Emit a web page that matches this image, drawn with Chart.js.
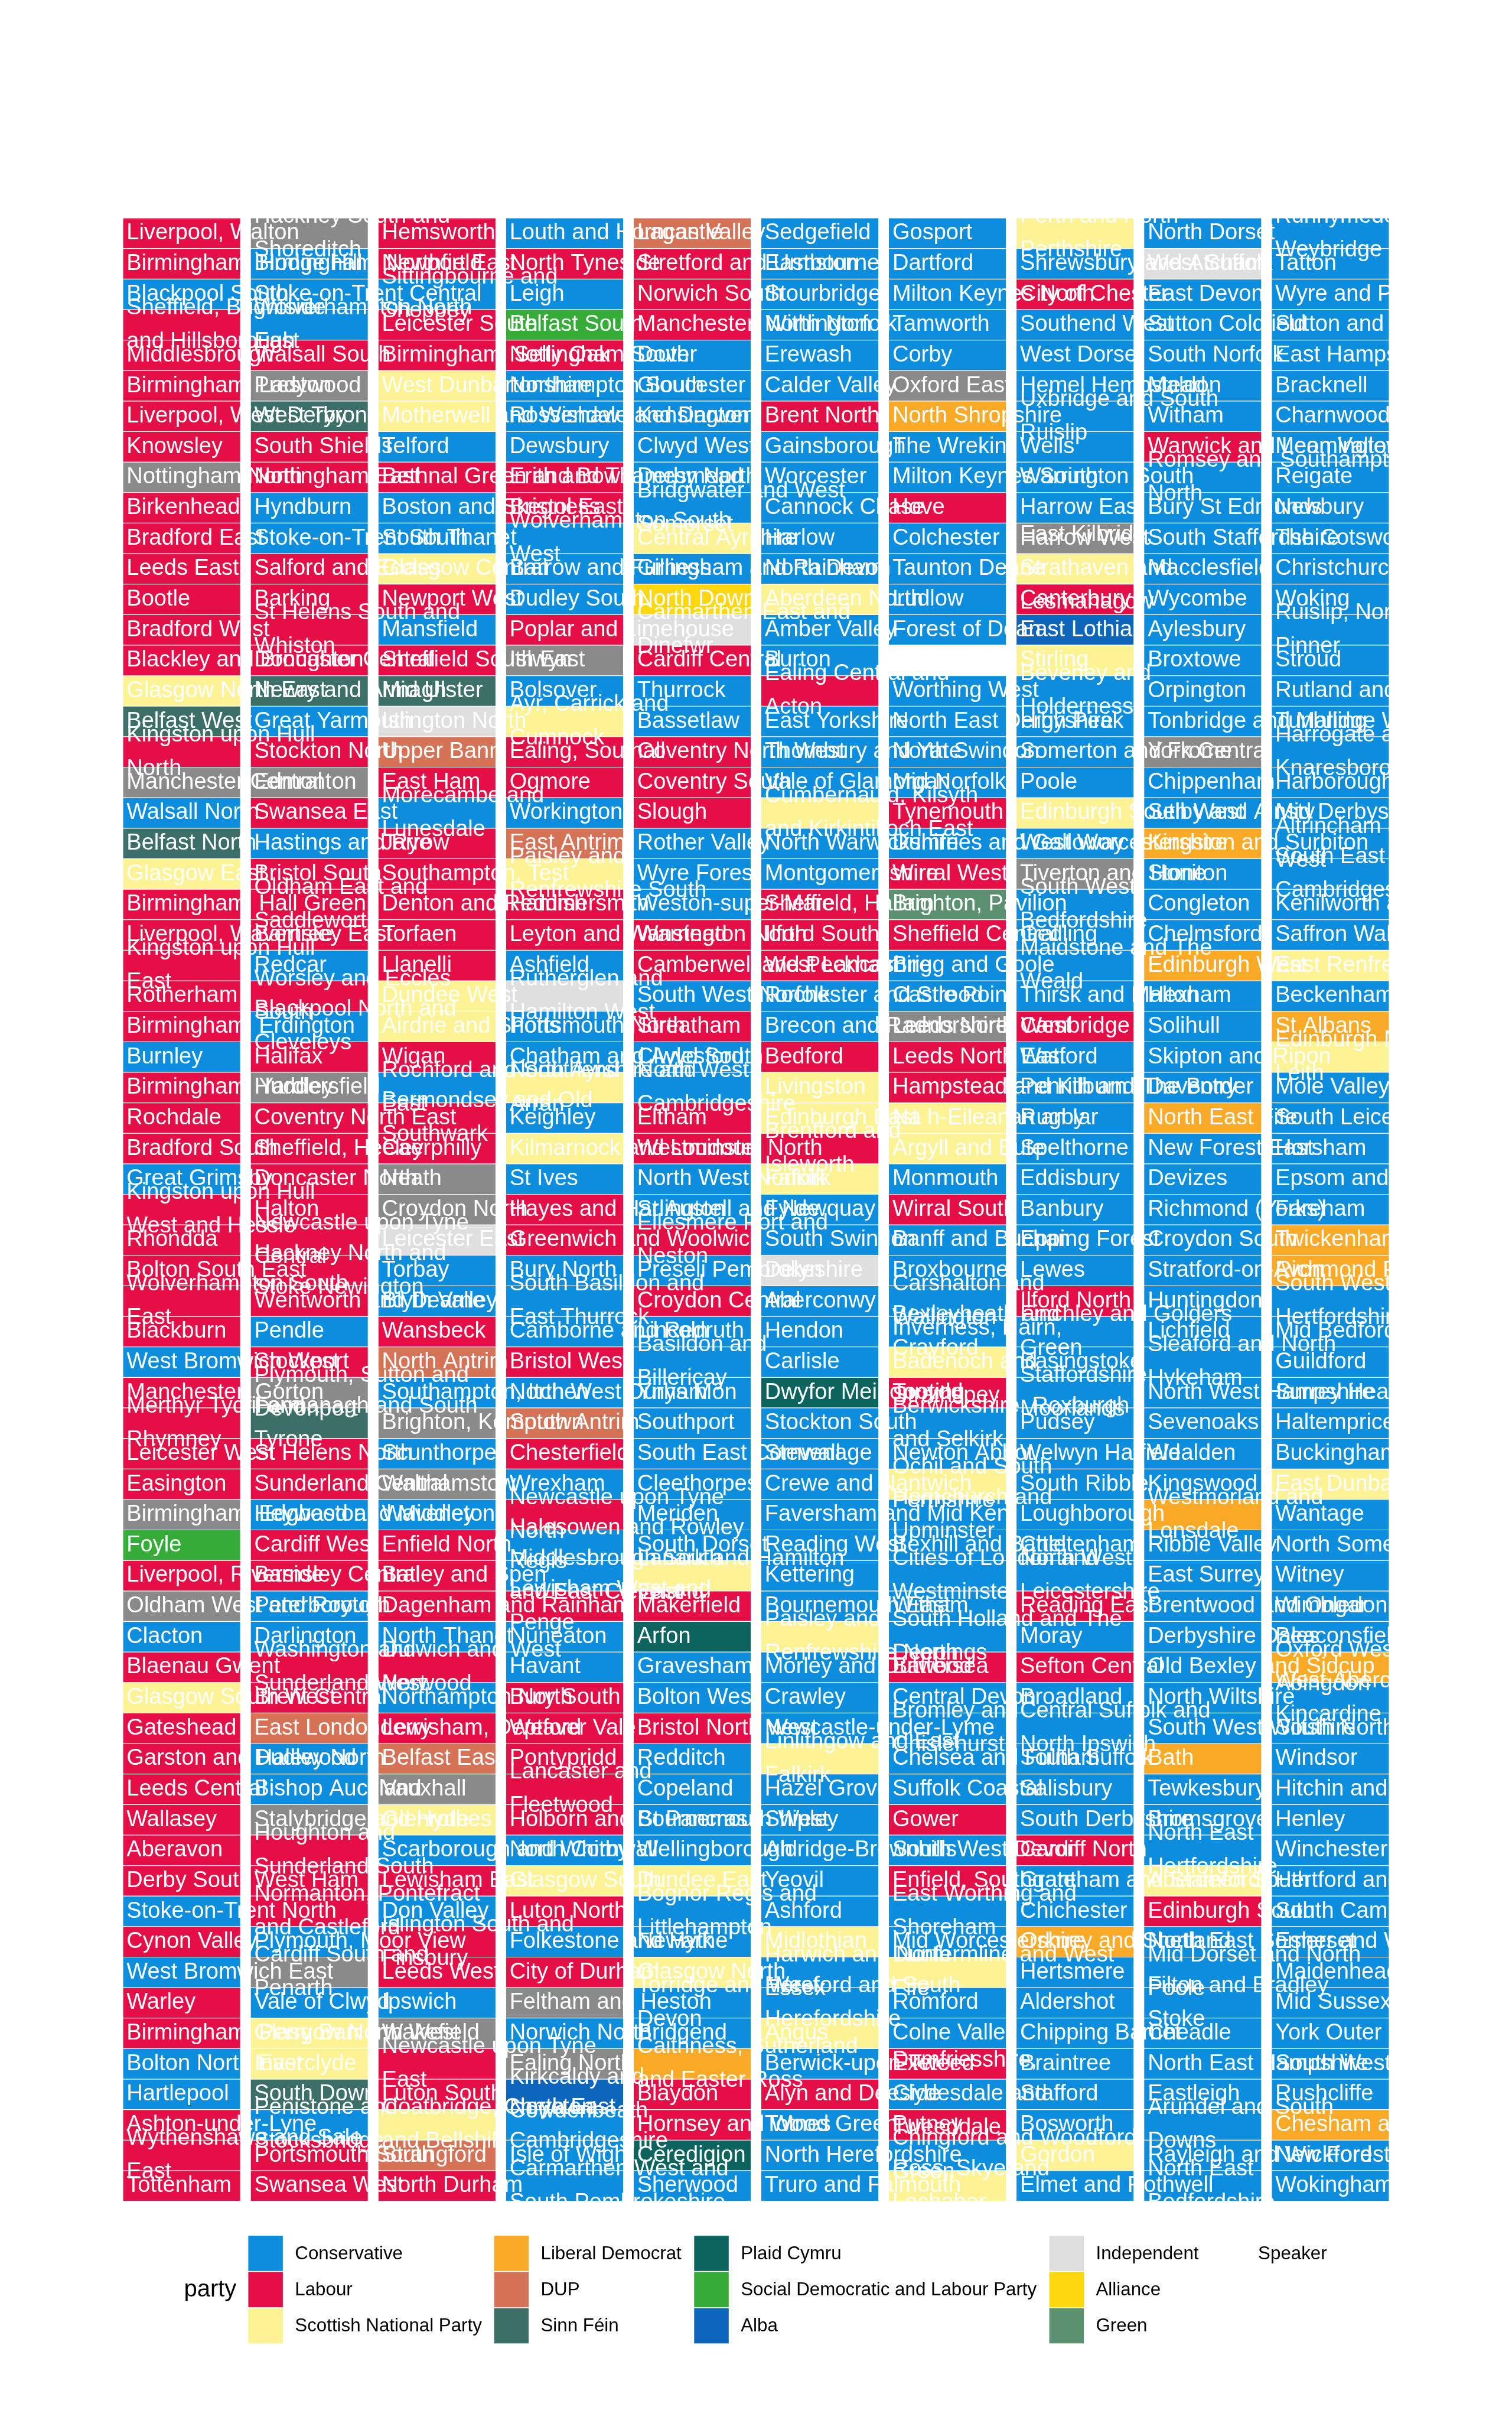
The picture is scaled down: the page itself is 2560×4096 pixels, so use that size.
<!DOCTYPE html>
<html>
<head>
<meta charset="utf-8">
<script src="https://cdn.jsdelivr.net/npm/chart.js@4.4.1/dist/chart.umd.min.js"></script>
<style>
html,body{margin:0;padding:0;background:#ffffff;}
#c{display:block;width:2560px;height:4096px;}
</style>
</head>
<body>
<canvas id="c" width="2560" height="4096"></canvas>
<script>
// ---------------- DATA ----------------
const columnLabels = ['1','2','3','4','5','6','7','8','9','10'];

const col1Names = ["Liverpool, Walton","Birmingham, Hodge Hill","Blackpool South","Sheffield, Brightside and Hillsborough","Middlesbrough","Birmingham, Ladywood","Liverpool, West Derby","Knowsley","Nottingham North","Birkenhead",
"Bradford East","Leeds East","Bootle","Bradford West","Blackley and Broughton","Glasgow North East","Belfast West","Kingston upon Hull North","Manchester Central","Walsall North",
"Belfast North","Glasgow East","Birmingham, Hall Green","Liverpool, Wavertree","Kingston upon Hull East","Rotherham","Birmingham, Erdington","Burnley","Birmingham, Yardley","Rochdale",
"Bradford South","Great Grimsby","Kingston upon Hull West and Hessle","Rhondda","Bolton South East","Wolverhampton South East","Blackburn","West Bromwich West","Manchester, Gorton","Merthyr Tydfil and Rhymney",
"Leicester West","Easington","Birmingham, Edgbaston","Foyle","Liverpool, Riverside","Oldham West and Royton","Clacton","Blaenau Gwent","Glasgow South West","Gateshead",
"Garston and Halewood","Leeds Central","Wallasey","Aberavon","Derby South","Stoke-on-Trent North","Cynon Valley","West Bromwich East","Warley","Birmingham, Perry Barr",
"Bolton North East","Hartlepool","Ashton-under-Lyne","Wythenshawe and Sale East","Tottenham"];

const col2Names = ["Hackney South and Shoreditch","Birmingham, Northfield","Stoke-on-Trent Central","Wolverhampton North East","Walsall South","Preston","West Tyrone","South Shields","Nottingham East","Hyndburn",
"Stoke-on-Trent South","Salford and Eccles","Barking","St Helens South and Whiston","Doncaster Central","Newry and Armagh","Great Yarmouth","Stockton North","Edmonton","Swansea East",
"Hastings and Rye","Bristol South","Oldham East and Saddleworth","Barnsley East","Redcar","Worsley and Eccles South","Blackpool North and Cleveleys","Halifax","Huddersfield","Coventry North East",
"Sheffield, Heeley","Doncaster North","Halton","Newcastle upon Tyne Central","Hackney North and Stoke Newington","Wentworth and Dearne","Pendle","Stockport","Plymouth, Sutton and Devonport","Fermanagh and South Tyrone",
"St Helens North","Sunderland Central","Heywood and Middleton","Cardiff West","Barnsley Central","Peterborough","Darlington","Washington and Sunderland West","Brent Central","East Londonderry",
"Dudley North","Bishop Auckland","Stalybridge and Hyde","Houghton and Sunderland South","West Ham","Normanton, Pontefract and Castleford","Plymouth, Moor View","Cardiff South and Penarth","Vale of Clwyd","Glasgow North West",
"Inverclyde","South Down","Penistone and Stocksbridge","Portsmouth South","Swansea West"];

const col3Names = ["Hemsworth","Newport East","Sittingbourne and Sheppey","Leicester South","Birmingham, Selly Oak","West Dunbartonshire","Motherwell and Wishaw","Telford","Bethnal Green and Bow","Boston and Skegness",
"South Thanet","Glasgow Central","Newport West","Mansfield","Sheffield South East","Mid Ulster","Islington North","Upper Bann","East Ham","Morecambe and Lunesdale",
"Jarrow","Southampton, Test","Denton and Reddish","Torfaen","Llanelli","Dundee West","Airdrie and Shotts","Wigan","Rochford and Southend East","Bermondsey and Old Southwark",
"Caerphilly","Neath","Croydon North","Leicester East","Torbay","Blyth Valley","Wansbeck","North Antrim","Southampton, Itchen","Brighton, Kemptown",
"Scunthorpe","Walthamstow","Waveney","Enfield North","Batley and Spen","Dagenham and Rainham","North Thanet","Dulwich and West Norwood","Northampton North","Lewisham, Deptford",
"Belfast East","Vauxhall","Glenrothes","Scarborough and Whitby","Lewisham East","Don Valley","Islington South and Finsbury","Leeds West","Ipswich","Wakefield",
"Newcastle upon Tyne East","Luton South","Coatbridge, Chryston and Bellshill","Strangford","North Durham"];

const col4Names = ["Louth and Horncastle","North Tyneside","Leigh","Belfast South","Nottingham South","Northampton South","Rossendale and Darwen","Dewsbury","Erith and Thamesmead","Bristol East",
"Wolverhampton South West","Barrow and Furness","Dudley South","Poplar and Limehouse","Islwyn","Bolsover","Ayr, Carrick and Cumnock","Ealing, Southall","Ogmore","Workington",
"East Antrim","Paisley and Renfrewshire South","Hammersmith","Leyton and Wanstead","Ashfield","Rutherglen and Hamilton West","Portsmouth North","Chatham and Aylesford","North Ayrshire and Arran","Keighley",
"Kilmarnock and Loudoun","St Ives","Hayes and Harlington","Greenwich and Woolwich","Bury North","South Basildon and East Thurrock","Camborne and Redruth","Bristol West","North West Durham","South Antrim",
"Chesterfield","Wrexham","Newcastle upon Tyne North","Halesowen and Rowley Regis","Middlesbrough South and East Cleveland","Lewisham West and Penge","Nuneaton","Havant","Bury South","Weaver Vale",
"Pontypridd","Lancaster and Fleetwood","Holborn and St Pancras","North Cornwall","Glasgow South","Luton North","Folkestone and Hythe","City of Durham","Feltham and Heston","Norwich North",
"Ealing North","Kirkcaldy and Cowdenbeath","North East Cambridgeshire","Isle of Wight","Carmarthen West and South Pembrokeshire"];

const col5Names = ["Lagan Valley","Stretford and Urmston","Norwich South","Manchester, Withington","Dover","Gloucester","Kensington","Clwyd West","Derby North","Bridgwater and West Somerset",
"Central Ayrshire","Gillingham and Rainham","North Down","Carmarthen East and Dinefwr","Cardiff Central","Thurrock","Bassetlaw","Coventry North West","Coventry South","Slough",
"Rother Valley","Wyre Forest","Weston-super-Mare","Warrington North","Camberwell and Peckham","South West Norfolk","Streatham","Clwyd South","North West Cambridgeshire","Eltham",
"Westminster North","North West Norfolk","St Austell and Newquay","Ellesmere Port and Neston","Preseli Pembrokeshire","Croydon Central","Lincoln","Basildon and Billericay","Ynys Môn","Southport",
"South East Cornwall","Cleethorpes","Meriden","South Dorset","Lanark and Hamilton East","Makerfield","Arfon","Gravesham","Bolton West","Bristol North West",
"Redditch","Copeland","Bournemouth West","Wellingborough","Dundee East","Bognor Regis and Littlehampton","Newark","Glasgow North","Torridge and West Devon","Bridgend",
"Caithness, Sutherland and Easter Ross","Blaydon","Hornsey and Wood Green","Ceredigion","Sherwood"];

const col6Names = ["Sedgefield","Eastbourne","Stourbridge","North Norfolk","Erewash","Calder Valley","Brent North","Gainsborough","Worcester","Cannock Chase",
"Harlow","North Devon","Aberdeen North","Amber Valley","Burton","Ealing Central and Acton","East Yorkshire","Thornbury and Yate","Vale of Glamorgan","Cumbernauld, Kilsyth and Kirkintilloch East",
"North Warwickshire","Montgomeryshire","Sheffield, Hallam","Ilford South","West Lancashire","Rochester and Strood","Brecon and Radnorshire","Bedford","Livingston","Edinburgh East",
"Brentford and Isleworth","Falkirk","Fylde","South Swindon","Delyn","Aberconwy","Hendon","Carlisle","Dwyfor Meirionnydd","Stockton South",
"Stevenage","Crewe and Nantwich","Faversham and Mid Kent","Reading West","Kettering","Bournemouth East","Paisley and Renfrewshire North","Morley and Outwood","Crawley","Newcastle-under-Lyme",
"Linlithgow and East Falkirk","Hazel Grove","Shipley","Aldridge-Brownhills","Yeovil","Ashford","Midlothian","Harwich and North Essex","Hereford and South Herefordshire","Angus",
"Berwick-upon-Tweed","Alyn and Deeside","Totnes","North Herefordshire","Truro and Falmouth"];

const col7Names = ["Gosport","Dartford","Milton Keynes North","Tamworth","Corby","Oxford East","North Shropshire","The Wrekin","Milton Keynes South","Hove",
"Colchester","Taunton Deane","Ludlow","Forest of Dean","Chorley","Worthing West","North East Derbyshire","North Swindon","Mid Norfolk","Tynemouth",
"Dumfries and Galloway","Wirral West","Brighton, Pavilion","Sheffield Central","Brigg and Goole","Castle Point","Leeds North West","Leeds North East","Hampstead and Kilburn","Na h-Eileanan an Iar",
"Argyll and Bute","Monmouth","Wirral South","Banff and Buchan","Broxbourne","Carshalton and Wallington","Bexleyheath and Crayford","Inverness, Nairn, Badenoch and Strathspey","Tooting","Berwickshire, Roxburgh and Selkirk",
"Newton Abbot","Ochil and South Perthshire","Hornchurch and Upminster","Bexhill and Battle","Cities of London and Westminster","Witham","South Holland and The Deepings","Battersea","Central Devon","Bromley and Chislehurst",
"Chelsea and Fulham","Suffolk Coastal","Gower","South West Devon","Enfield, Southgate","East Worthing and Shoreham","Mid Worcestershire","Dunfermline and West Fife","Romford","Colne Valley",
"Exeter","Dumfriesshire, Clydesdale and Tweeddale","Putney","Chingford and Woodford Green","Ross, Skye and Lochaber"];

const col8Names = ["Perth and North Perthshire","Shrewsbury and Atcham","City of Chester","Southend West","West Dorset","Hemel Hempstead","Uxbridge and South Ruislip","Wells","Warrington South","Harrow East",
"Harrow West","East Kilbride, Strathaven and Lesmahagow","Canterbury","East Lothian","Stirling","Beverley and Holderness","High Peak","Somerton and Frome","Poole","Edinburgh South West",
"West Worcestershire","Tiverton and Honiton","South West Bedfordshire","Gedling","Maidstone and The Weald","Thirsk and Malton","Cambridge","Watford","Penrith and The Border","Rugby",
"Spelthorne","Eddisbury","Banbury","Epping Forest","Lewes","Ilford North","Finchley and Golders Green","Basingstoke","Staffordshire Moorlands","Pudsey",
"Welwyn Hatfield","South Ribble","Loughborough","Cheltenham","North West Leicestershire","Reading East","Moray","Sefton Central","Broadland","Central Suffolk and North Ipswich",
"South Suffolk","Salisbury","South Derbyshire","Cardiff North","Grantham and Stamford","Chichester","Orkney and Shetland","Hertsmere","Aldershot","Chipping Barnet",
"Braintree","Stafford","Bosworth","Gordon","Elmet and Rothwell"];

const col9Names = ["North Dorset","West Suffolk","East Devon","Sutton Coldfield","South Norfolk","Maldon","Witham","Warwick and Leamington","Romsey and Southampton North","Bury St Edmunds",
"South Staffordshire","Macclesfield","Wycombe","Aylesbury","Broxtowe","Orpington","Tonbridge and Malling","York Central","Chippenham","Selby and Ainsty",
"Kingston and Surbiton","Stone","Congleton","Chelmsford","Edinburgh West","Hexham","Solihull","Skipton and Ripon","Daventry","North East Fife",
"New Forest East","Devizes","Richmond (Yorks)","Croydon South","Stratford-on-Avon","Huntingdon","Lichfield","Sleaford and North Hykeham","North West Hampshire","Sevenoaks",
"Wealden","Kingswood","Westmorland and Lonsdale","Ribble Valley","East Surrey","Brentwood and Ongar","Derbyshire Dales","Old Bexley and Sidcup","North Wiltshire","South West Wiltshire",
"Bath","Tewkesbury","Bromsgrove","North East Hertfordshire","Aberdeen South","Edinburgh South","North East Somerset","Mid Dorset and North Poole","Filton and Bradley Stoke","Cheadle",
"North East Hampshire","Eastleigh","Arundel and South Downs","Rayleigh and Wickford","North East Bedfordshire"];

const col10Names = ["Runnymede and Weybridge","Tatton","Wyre and Preston North","Sutton and Cheam","East Hampshire","Bracknell","Charnwood","Meon Valley","Reigate","Newbury",
"The Cotswolds","Christchurch","Woking","Ruislip, Northwood and Pinner","Stroud","Rutland and Melton","Tunbridge Wells","Harrogate and Knaresborough","Harborough","Mid Derbyshire",
"Altrincham and Sale West","South East Cambridgeshire","Kenilworth and Southam","Saffron Walden","East Renfrewshire","Beckenham","St Albans","Edinburgh North and Leith","Mole Valley","South Leicestershire",
"Horsham","Epsom and Ewell","Fareham","Twickenham","Richmond Park","South West Hertfordshire","Mid Bedfordshire","Guildford","Surrey Heath","Haltemprice and Howden",
"Buckingham","East Dunbartonshire","Wantage","North Somerset","Witney","Wimbledon","Beaconsfield","Oxford West and Abingdon","West Aberdeenshire and Kincardine","South Northamptonshire",
"Windsor","Hitchin and Harpenden","Henley","Winchester","Hertford and Stortford","South Cambridgeshire","Esher and Walton","Maidenhead","Mid Sussex","York Outer",
"South West Surrey","Rushcliffe","Chesham and Amersham","New Forest West","Wokingham"];

// party of each seat, one letter per row (top to bottom) in each column
// C Conservative, L Labour, S SNP, D Lib Dem, U DUP, F Sinn Féin, P Plaid Cymru,
// M SDLP, A Alba, I Independent, Y Alliance, G Green, K Speaker, Q Labour Co-op, O other
const col1Parties  = "LLCLLLLLQL"+"LLLLLSFLQC"+"FSLLLLLCLL"+"LCLLLLLCLL"+"LLQMLQCLSL"+"LLLLLCLCLL"+"CCLLL";
const col2Parties  = "QCCCLQFLLC"+"CLLLLFCLQL"+"CLLLCLCLQL"+"LLLLLLCLQF"+"LLCLLCCLLU"+"CCQLLLCQCS"+"SFCLL";
const col3Parties  = "LLCLLSSCLC"+"CSLCLFIULC"+"LLLLLSSLCL"+"LQQICCLUCQ"+"CQCLLLCLCL"+"UQSCLCLLCQ"+"LLSUL";
const col4Parties  = "CLCMLCCCLL"+"CCCLQCSLLC"+"USLLCICCSC"+"SCLLCCCLCU"+"LCLCCLCCLL"+"LLLCSLCLQC"+"QACCC";
const col5Parties  = "ULLLCCCCCC"+"SCYILCCLLL"+"CCCLLCLCCL"+"LCCLCLCCCC"+"CCCCSLPCCL"+"CCCCSCCSCC"+"DLLPC";
const col6Parties  = "CCCCCCLCCC"+"CCSCCLCCCS"+"CCLLLCCLSS"+"LSCCICCCPC"+"CCCCCCSCCC"+"SCCCCCSCCS"+"CLCCC";
const col7Parties  = "CCCCCQDCCL"+"CCCCKCCCCL"+"CLGLCCQLLS"+"SCLCCCCSLC"+"CSCCCCCLCC"+"CCLCLCCSCC"+"LCLCS";
const col8Parties  = "SCLCCCCCCC"+"QSLASCCCCS"+"COCCCCLCCC"+"CCCCCLCCCC"+"CCCCCLCLCC"+"CCCLCCDCCC"+"CCCSC";
const col9Parties  = "CICCCCCLCC"+"CCCCCCCQCC"+"DCCCDCCCCD"+"CCCCCCCCCC"+"CCDCCCCCCC"+"DCCCSLCCCC"+"CCCCC";
const col10Parties = "CCCCCCCCCC"+"CCCCCCCCCC"+"CCCCSCDSCC"+"CCCDDCCCCC"+"CSCCCCCDCC"+"CCCCCCCCCC"+"CCDCC";

// legend entries (code, label), in legend order
const legendCodes  = ['C','L','S','D','U','F','P','M','A','I','Y','G','K'];
const legendLabels = ['Conservative','Labour','Scottish National Party','Liberal Democrat','DUP','Sinn Féin',
  'Plaid Cymru','Social Democratic and Labour Party','Alba','Independent','Alliance','Green','Speaker'];

// ---------------- STYLE ----------------
const partyColor = {
  C:'#0D8DDE', L:'#E50E46', S:'#FDF394', D:'#FAAA26', U:'#D67255', F:'#3C6F68',
  P:'#0D635D', M:'#35AC37', A:'#0D66BC', I:'#DFDFDF', Y:'#FFD70F', G:'#5B9170',
  K:'#FFFFFF', Q:'#8A8A8A', O:'#8A8A8A'
};
const FONT = '"Liberation Sans", Arial, Helvetica, sans-serif';

const nameCols  = [col1Names,col2Names,col3Names,col4Names,col5Names,col6Names,col7Names,col8Names,col9Names,col10Names];
const partyCols = [col1Parties,col2Parties,col3Parties,col4Parties,col5Parties,col6Parties,col7Parties,col8Parties,col9Parties,col10Parties].map(s=>s.split(''));
const ROWS = 65;

function wrapWords(text, width){
  const words = text.split(' ');
  const lines = [];
  let cur = '';
  for (const w of words){
    if (cur === '') cur = w;
    else if ((cur + ' ' + w).length <= width) cur += ' ' + w;
    else { lines.push(cur); cur = w; }
  }
  if (cur !== '') lines.push(cur);
  return lines;
}

const datasets = [];
for (let r = 0; r < ROWS; r++){
  datasets.push({
    label: 'Row ' + (r+1),
    data: nameCols.map(() => 1),
    backgroundColor: partyCols.map(p => partyColor[p[r]]),
    borderColor: '#ffffff',
    borderWidth: {top:0.6, bottom:0.6, left:0, right:0},
    borderSkipped: false,
    categoryPercentage: 0.918,
    barPercentage: 1.0,
    stack: 'seats'
  });
}

const cellText = {
  id: 'cellText',
  afterDatasetsDraw(chart){
    const ctx = chart.ctx;
    ctx.save();
    ctx.font = '38px ' + FONT;
    ctx.fillStyle = '#ffffff';
    ctx.textBaseline = 'middle';
    ctx.textAlign = 'left';
    const lineH = 57;
    for (let r = 0; r < ROWS; r++){
      const meta = chart.getDatasetMeta(r);
      meta.data.forEach((el, c) => {
        const lines = wrapWords(nameCols[c][r], 22);
        const cy = (el.y + el.base) / 2;
        const left = el.x - el.width / 2 + 6;
        lines.forEach((ln, i) => {
          ctx.fillText(ln, left, cy + (i - (lines.length - 1) / 2) * lineH);
        });
      });
    }
    ctx.restore();
  }
};

const partyLegend = {
  id: 'partyLegend',
  afterDraw(chart){
    const ctx = chart.ctx;
    ctx.save();
    const colX = [420.4, 836.6, 1175.3, 1776.6, 2051.2];
    const rowTop = [3784.2, 3845.4, 3906.8];
    const sw = 58.5, sh = 59.6, gap = 78.9;
    ctx.fillStyle = '#000000';
    ctx.textBaseline = 'middle';
    ctx.textAlign = 'left';
    ctx.font = '40px ' + FONT;
    ctx.fillText('party', 311.4, rowTop[1] + sh/2 + 1);
    ctx.font = '31.3px ' + FONT;
    legendCodes.forEach((code, i) => {
      const col = Math.floor(i / 3), row = i % 3;
      const x = colX[col], y = rowTop[row];
      ctx.fillStyle = partyColor[code];
      ctx.fillRect(x, y, sw, sh);
      ctx.fillStyle = '#000000';
      ctx.fillText(legendLabels[i], x + gap, y + sh/2 + 1);
    });
    ctx.restore();
  }
};

new Chart(document.getElementById('c'), {
  type: 'bar',
  data: { labels: columnLabels, datasets: datasets },
  options: {
    responsive: false,
    maintainAspectRatio: false,
    devicePixelRatio: 1,
    animation: false,
    layout: { padding: { left: 199.5, right: 199.5, top: 369, bottom: 370.4 } },
    scales: {
      x: { type: 'category', stacked: true, display: false, offset: true, grid: {display:false} },
      y: { type: 'linear', stacked: true, display: false, min: 0, max: ROWS, reverse: true, grid: {display:false} }
    },
    plugins: {
      legend: { display: false },
      tooltip: { enabled: false },
      title: { display: false }
    }
  },
  plugins: [cellText, partyLegend]
});
</script>
</body>
</html>
